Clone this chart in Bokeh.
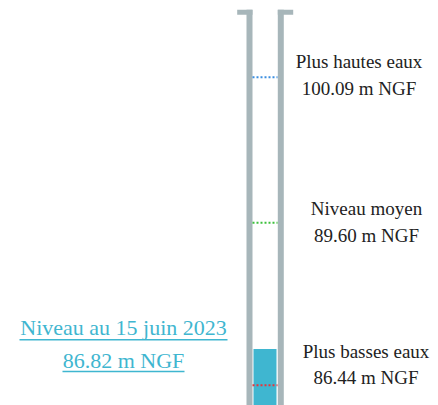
from bokeh.plotting import figure
from bokeh.models import Range1d, LinearScale, LogScale, ColumnDataSource
from bokeh.embed import file_html
from bokeh.resources import INLINE
from bokeh.core.properties import value

# ---- data ----
level_names = ["Plus hautes eaux", "Niveau moyen", "Plus basses eaux"]
level_values = [100.09, 89.60, 86.44]
level_colors = ["#3b8ee0", "#3cc03c", "#e8343a"]
current_date = "15 juin 2023"
current_value = 86.82
unit = "m NGF"

# schematic (log) scale reference
BASE = 85.4
W, H = 438, 405
FONT = "'Liberation Serif', 'DejaVu Serif', serif"
WALL = "#a7b6ba"
TEAL = "#3fb6d0"
SHIFT = 8.5

p = figure(width=W, height=H, output_backend="svg", toolbar_location=None,
           x_range=Range1d(0, W), y_range=Range1d(0.873, 28.41),
           x_axis_location=None, y_axis_location=None,
           min_border=0, outline_line_color=None,
           background_fill_color="white", border_fill_color="white")
p.y_scale = LogScale()
p.extra_y_ranges = {"px": Range1d(0, H)}
p.extra_y_scales = {"px": LinearScale()}
p.grid.visible = False

# well walls and caps (decoration, layout units)
p.quad(left=[246, 277.3], right=[252, 283.3], bottom=[0, 0], top=[395.7, 395.7],
       y_range_name="px", fill_color=WALL, line_color=None)
p.quad(left=[236.7, 277.3], right=[252, 292.7], bottom=[390.7, 390.7], top=[395.7, 395.7],
       y_range_name="px", fill_color=WALL, line_color=None)

# current level bar
p.quad(left=[253], right=[276], bottom=[p.y_range.start], top=[current_value - BASE],
       fill_color=TEAL, line_color=None)

# reference levels
u = [v - BASE for v in level_values]
src = ColumnDataSource(dict(y=u, c=level_colors))
p.segment(x0=252, x1=277, y0="y", y1="y", line_color="c", line_dash="2 2",
          line_width=2, source=src)

# level labels
xc = [358.5, 366, 365.5]
off1 = [-7.7, -6.3, -25.3]
off2 = [20.0, 20.7, 0.4]
for i in range(3):
    p.text(x=[xc[i]], y=[u[i]], text=[level_names[i]], y_offset=off1[i] - SHIFT,
           text_font=value(FONT), text_font_size="19px", text_color="#222222",
           text_align="center", text_baseline="alphabetic")
    p.text(x=[xc[i]], y=[u[i]], text=[f"{level_values[i]:.2f} {unit}"], y_offset=off2[i] - SHIFT,
           text_font=value(FONT), text_font_size="19px", text_color="#222222",
           text_align="center", text_baseline="alphabetic")

# current level label (underlined)
l1 = f"Niveau au {current_date}"
l2 = f"{current_value:.2f} {unit}"
p.text(x=[123, 123], y=[69.3 + SHIFT, 37 + SHIFT], text=[l1, l2], y_range_name="px",
       text_font=value(FONT), text_font_size="22px", text_color=TEAL,
       text_align="center", text_baseline="alphabetic")
p.segment(x0=[123 - 104, 123 - 61], x1=[123 + 104, 123 + 61], y0=[65.7, 34], y1=[65.7, 34],
          y_range_name="px", line_color=TEAL, line_width=1.5)

open("out.html", "w").write(file_html(p, INLINE))
